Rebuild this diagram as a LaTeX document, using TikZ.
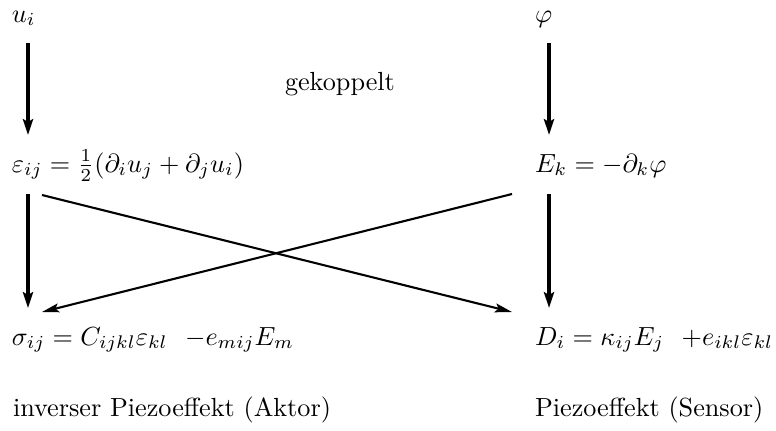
\documentclass[tikz,border=0pt]{standalone}
\usetikzlibrary{arrows.meta,calc}
\begin{document}
\begin{tikzpicture}[x=0.3817pt,y=-0.3817pt,
  txt/.style={inner sep=0pt,outer sep=0pt,anchor=base west},
  varrow/.style={line width=1.5pt,-{Stealth[length=6pt,width=3.8pt,inset=1pt]}},
  xarrow/.style={line width=0.8pt,-{Stealth[length=6.5pt,width=3.4pt,inset=1.2pt]}}]
\useasboundingbox (0,0) rectangle (776,430);
\node[txt] (ui)  at (12,22)  {$u_i$};
\node[txt] (phi) at (535,22) {$\varphi$};
\node[txt] (gek) at (285,90) {gekoppelt};
\node[txt] (eps) at (12,172) {$\varepsilon_{ij} = \frac{1}{2}(\partial_i u_j + \partial_j u_i)$};
\node[txt] (Ek)  at (535,172) {$E_k = -\partial_k\varphi$};
\node[txt] (sig) at (12,345) {$\sigma_{ij} = C_{ijkl}\varepsilon_{kl}\ \ {-e_{mij}}E_m$};
\node[txt] (Di)  at (535,345) {$D_i = \kappa_{ij}E_j\ \ {+e_{ikl}}\varepsilon_{kl}$};
\node[txt] (inv) at (13,416) {inverser Piezoeffekt (Aktor)};
\node[txt] (pie) at (535,416) {Piezoeffekt (Sensor)};
\draw[varrow] ($(ui.base west)+(16,21)$) -- ($(eps.base west)+(16,-37)$);
\draw[varrow] ($(eps.base west)+(16,22)$) -- ($(sig.base west)+(16,-37)$);
\draw[varrow] ($(phi.base west)+(14,21)$) -- ($(Ek.base west)+(14,-37)$);
\draw[varrow] ($(Ek.base west)+(14,22)$) -- ($(Di.base west)+(14,-37)$);
\draw[xarrow] ($(eps.base west)+(30,23)$) -- ($(Di.base west)+(-23,-33)$);
\draw[xarrow] ($(Ek.base west)+(-23,22)$) -- ($(sig.base west)+(30,-33)$);
\end{tikzpicture}
\end{document}
